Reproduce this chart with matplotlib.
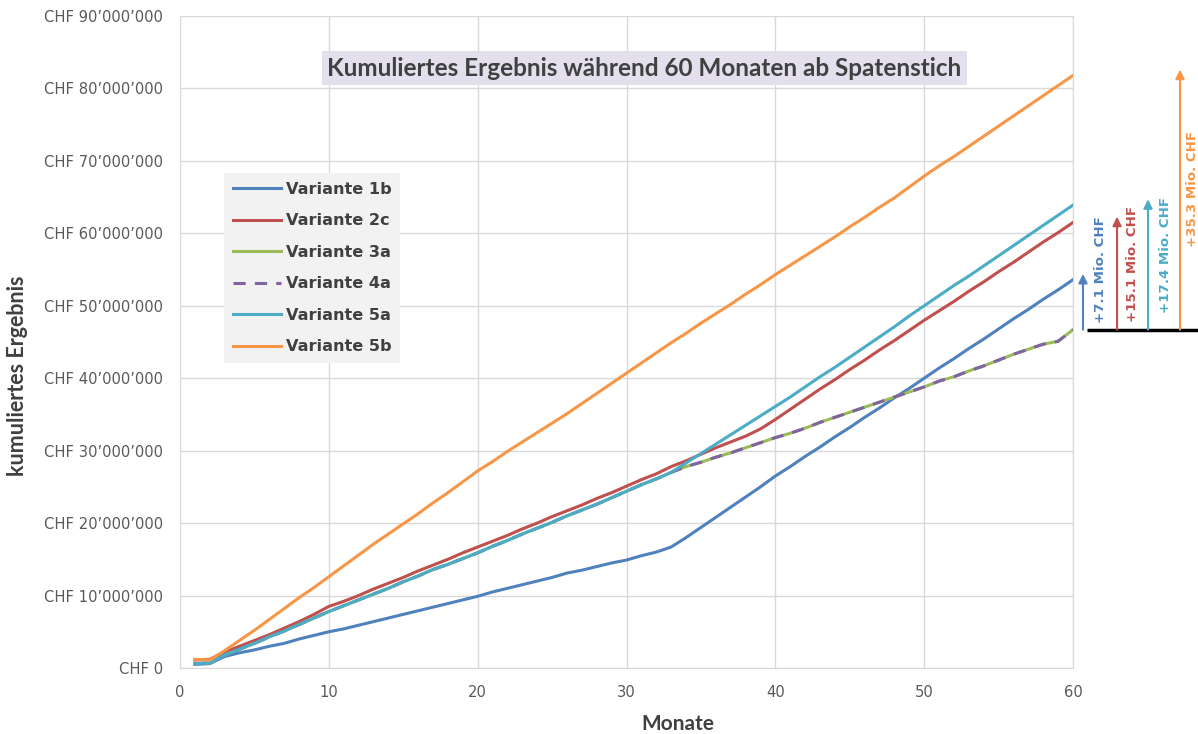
import numpy as np
import matplotlib
matplotlib.use("Agg")
import matplotlib.pyplot as plt
from matplotlib.ticker import FuncFormatter, MultipleLocator

# ----- data (cumulative result, Mio. CHF, months 1..60)
months = np.arange(1, 61)

var_1b = [0.5, 0.6, 1.6, 2.1, 2.5, 3.0, 3.4, 4.0, 4.5, 5.0,
          5.4, 5.9, 6.4, 6.9, 7.4, 7.9, 8.4, 8.9, 9.4, 9.9,
          10.5, 11.0, 11.5, 12.0, 12.5, 13.1, 13.5, 14.0, 14.5, 14.9,
          15.5, 16.0, 16.7, 18.0, 19.4, 20.8, 22.2, 23.6, 25.0, 26.5,
          27.8, 29.2, 30.5, 31.9, 33.2, 34.6, 35.9, 37.3, 38.6, 40.0,
          41.4, 42.7, 44.1, 45.4, 46.8, 48.2, 49.5, 50.9, 52.2, 53.6]

var_2c = [1.1, 1.2, 2.2, 3.0, 3.8, 4.6, 5.5, 6.4, 7.4, 8.5,
          9.2, 10.0, 10.9, 11.7, 12.5, 13.4, 14.2, 15.0, 15.9, 16.7,
          17.5, 18.3, 19.2, 20.0, 20.9, 21.7, 22.5, 23.4, 24.2, 25.1,
          26.0, 26.8, 27.8, 28.6, 29.5, 30.4, 31.2, 32.0, 33.0, 34.3,
          35.7, 37.1, 38.5, 39.8, 41.2, 42.5, 43.9, 45.2, 46.6, 48.0,
          49.3, 50.6, 52.0, 53.3, 54.7, 56.0, 57.4, 58.8, 60.1, 61.5]

var_5a = [0.6, 0.7, 1.8, 2.6, 3.4, 4.3, 5.1, 6.0, 6.9, 7.8,
          8.6, 9.4, 10.2, 11.0, 11.9, 12.7, 13.6, 14.3, 15.1, 15.9,
          16.8, 17.6, 18.5, 19.3, 20.1, 21.0, 21.8, 22.6, 23.5, 24.4,
          25.3, 26.1, 27.0, 28.3, 29.6, 30.9, 32.2, 33.5, 34.8, 36.1,
          37.4, 38.8, 40.2, 41.5, 42.9, 44.3, 45.7, 47.1, 48.6, 50.0,
          51.4, 52.8, 54.1, 55.5, 56.9, 58.3, 59.7, 61.1, 62.5, 63.9]

# 3a and 4a are identical; same as 5a until month 33
var_3a = [0.6, 0.7, 1.8, 2.6, 3.4, 4.3, 5.1, 6.0, 6.9, 7.8,
          8.6, 9.4, 10.2, 11.0, 11.9, 12.7, 13.6, 14.3, 15.1, 15.9,
          16.8, 17.6, 18.5, 19.3, 20.1, 21.0, 21.8, 22.6, 23.5, 24.4,
          25.3, 26.1, 27.0, 27.8, 28.4, 29.1, 29.7, 30.4, 31.1, 31.8,
          32.4, 33.1, 33.9, 34.6, 35.3, 36.0, 36.7, 37.4, 38.1, 38.8,
          39.6, 40.2, 41.0, 41.7, 42.5, 43.3, 44.0, 44.7, 45.1, 46.7]
var_4a = list(var_3a)

var_5b = [1.2, 1.1, 2.4, 3.8, 5.2, 6.7, 8.2, 9.7, 11.1, 12.6,
          14.1, 15.6, 17.1, 18.5, 19.9, 21.3, 22.8, 24.2, 25.7, 27.2,
          28.5, 29.9, 31.2, 32.5, 33.8, 35.1, 36.5, 37.9, 39.3, 40.7,
          42.1, 43.5, 44.9, 46.2, 47.6, 48.9, 50.2, 51.6, 52.9, 54.3,
          55.6, 56.9, 58.2, 59.5, 60.9, 62.2, 63.6, 64.9, 66.4, 67.9,
          69.3, 70.6, 72.0, 73.4, 74.8, 76.2, 77.6, 79.0, 80.4, 81.8]

labels = ["Variante 1b", "Variante 2c", "Variante 3a",
          "Variante 4a", "Variante 5a", "Variante 5b"]
colors = ["#4F81BD", "#C0504D", "#9BBB59", "#8064A2", "#4BACC6", "#F79646"]

# difference to Variante 3a at month 60
diff_labels = ["+7.1 Mio. CHF", "+15.1 Mio. CHF", "+17.4 Mio. CHF", "+35.3 Mio. CHF"]
diff_series = [var_1b, var_2c, var_5a, var_5b]
diff_colors = ["#4F81BD", "#C0504D", "#4BACC6", "#F79646"]


def chf_fmt(v, pos):
    if v == 0:
        return "CHF 0"
    return "CHF " + "{:,}".format(int(round(v * 1e6))).replace(",", "\u2019")


fig = plt.figure(figsize=(11.98, 7.34), dpi=100)
ax = fig.add_axes([180 / 1198, 66 / 734, 893 / 1198, 652 / 734])

# ============================= LINES
for data, lab, col in zip([var_1b, var_2c, var_3a], labels[:3], colors[:3]):
    ax.plot(months, data, color=col, lw=2.2, label=lab)
ax.plot(months, var_4a, color=colors[3], lw=2.2, label=labels[3],
        dashes=(4, 3))
ax.plot(months, var_5a, color=colors[4], lw=2.2, label=labels[4])
ax.plot(months, var_5b, color=colors[5], lw=2.2, label=labels[5])

# ============================= AXES
ax.set_xlim(0, 60)
ax.set_ylim(0, 90)
ax.xaxis.set_major_locator(MultipleLocator(10))
ax.yaxis.set_major_locator(MultipleLocator(10))
ax.yaxis.set_major_formatter(FuncFormatter(chf_fmt))
ax.grid(True, color="#d9d9d9", lw=1.0)
ax.set_axisbelow(True)
for sp in ax.spines.values():
    sp.set_color("#d9d9d9")
ax.tick_params(axis="both", length=0, labelsize=10.6, labelcolor="#595959")
ax.tick_params(axis="y", pad=12)
ax.tick_params(axis="x", pad=12)

ax.set_xlabel("Monate", fontsize=15, fontweight="bold", color="#404040",
              family="Lato")
ax.xaxis.set_label_coords(0.558, -0.07)
ax.set_ylabel("kumuliertes Ergebnis", fontsize=15.5, fontweight="bold",
              color="#404040", family="Lato")
ax.yaxis.set_label_coords(-0.17, 0.449)

# ----- title box
ax.text(0.52, 0.92, "Kumuliertes Ergebnis während 60 Monaten ab Spatenstich",
        transform=ax.transAxes, ha="center", va="center", fontsize=17.5,
        fontweight="bold", color="#404040", family="Lato",
        bbox=dict(boxstyle="square,pad=0.22", facecolor="#e4dfec", edgecolor="none"))

# ----- legend
leg = ax.legend(loc="upper left", bbox_to_anchor=(0.049, 0.759), borderaxespad=0,
                frameon=True, fancybox=False, facecolor="#f2f2f2", edgecolor="none",
                framealpha=1.0, handlelength=3.0, handletextpad=0.3,
                labelspacing=1.02, borderpad=0.55,
                prop={"weight": "bold", "size": 11.6})
for t in leg.get_texts():
    t.set_color("#404040")

# ============================= DIFFERENCE ARROWS
base = var_3a[-1]
arrow_x = [60.67, 62.96, 65.04, 67.19]
text_x = [61.85, 64.0, 66.2, 68.05]
text_y = [47.6, 47.8, 49.0, 58.1]
ax.plot([60.94, 68.5], [base, base], color="black", lw=2.5, clip_on=False,
        solid_capstyle="butt")
for ser, lab, col, xa, xt, yt in zip(diff_series, diff_labels, diff_colors,
                                     arrow_x, text_x, text_y):
    ax.annotate("", xy=(xa, ser[-1] + 0.8), xytext=(xa, base),
                arrowprops=dict(arrowstyle="-|>", color=col, lw=1.5,
                                mutation_scale=13, shrinkA=0, shrinkB=0),
                annotation_clip=False)
    ax.text(xt, yt, lab, rotation=90, ha="center", va="bottom", color=col,
            fontsize=9.6, fontweight="bold", clip_on=False)

fig.savefig("out.png", dpi=100)
